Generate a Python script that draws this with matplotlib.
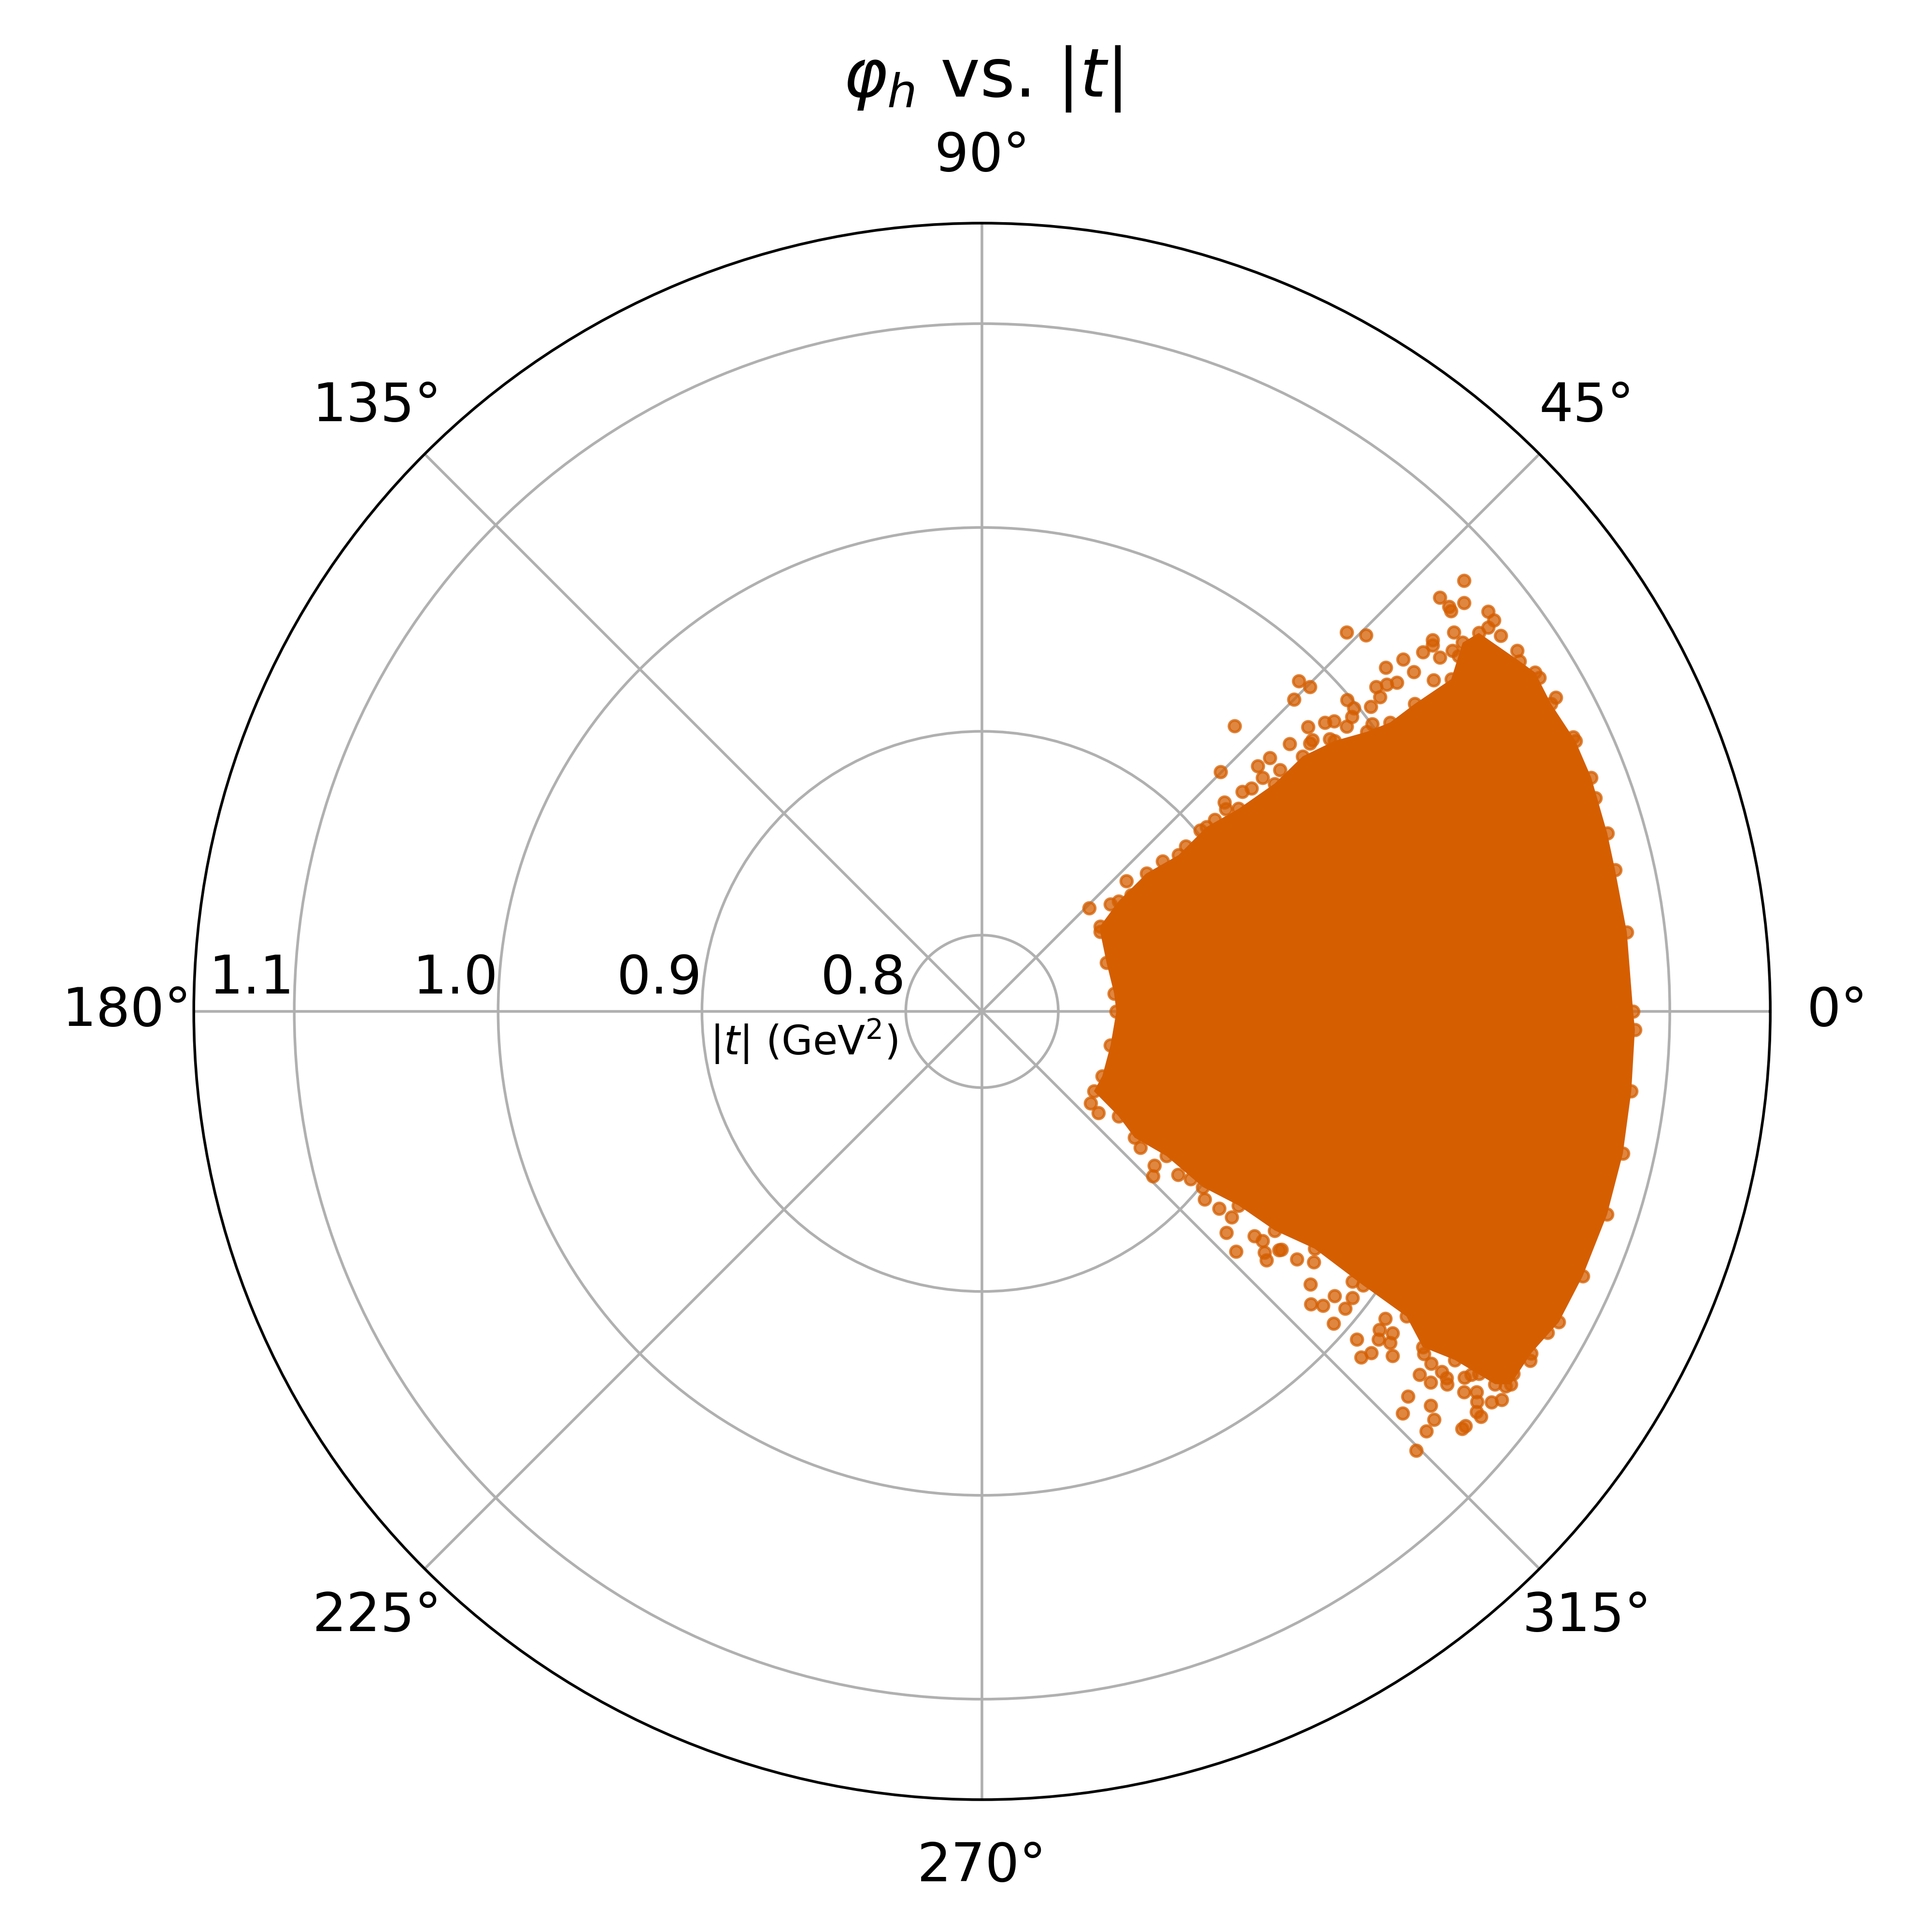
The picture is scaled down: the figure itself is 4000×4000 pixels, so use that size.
import numpy as np
import matplotlib.pyplot as plt
from matplotlib.transforms import ScaledTranslation

# dense core of the phi_h / |t| distribution (outline, deg / GeV^2)
core_phi_deg = [-35.5, -28.3, -14.7, 0.0, 7.7, 21.4, 34.0, 35.8,
                38.9, 40.0, 38.5, 39.4, 38.3, 37.9, 38.5, 37.5, 36.0, 35.3, 35.4, 35.3, 37.5, 37.3,
                33.1, 31.5, 28.4, 24.5, 21.0, 15.9, 12.6, 7.0, 0.0, -1.6, -7.0, -12.5, -18.0, -23.8,
                -28.3, -31.9, -35.2,
                -36.0, -36.4, -37.3, -35.7, -35.7, -35.5, -36.8, -37.1, -38.5, -38.1, -39.6, -37.5]
core_t = [0.830, 0.8296, 0.8278, 0.8285, 0.828, 0.8282, 0.8325, 0.834,
          0.8487, 0.868, 0.8858, 0.9052, 0.923, 0.9444, 0.9636, 0.9806, 0.996, 1.008, 1.023, 1.0446, 1.0598, 1.069,
          1.0773, 1.0808, 1.0799, 1.0825, 1.0827, 1.0815, 1.0808, 1.0813, 1.082, 1.083, 1.0835, 1.0846, 1.085, 1.0846,
          1.084, 1.0799, 1.080,
          1.0737, 1.0507, 1.0344, 1.019, 0.9927, 0.963, 0.942, 0.9204, 0.901, 0.8775, 0.8597, 0.847]

# sparse events outside the core
sparse_phi_deg = [41.8, 42.1, 40.3, 40.9, 40.5, 38.3, 37.4, 37.2, 38.8, 46.1, 44.4, 39.5, 39.1, 39.2,
                  39.9, 40.4, 37.7, 46.2, 44.7, 45.0, 48.5, 39.5, 38.4, 40.5, 39.2, 38.5, 39.5, 40.1,
                  41.1, 41.0, 39.3, 45.1, 41.7, 39.8, 41.4, 39.0, 40.2, 39.6, 40.8, 39.7, 39.5, 39.7,
                  39.0, 42.1, 38.2, 38.0, 43.9, 39.8, 39.7, 34.0, 35.9, 36.7,
                  38.0, 39.4, 38.1, 38.97, 38.2, 36.4, 38.1, 38.3, 37.5, 36.3, 30.9, 28.7, 24.9, 19.2,
                  -40.2, -41.1, -40.7, -41.8, -44.0, -40.2, -39.7, -42.2, -43.4, -41.2, -38.2, -39.7,
                  -41.7, -40.8, -41.6, -39.3, -41.2, -42.4, -41.3, -40.0, -39.7, -39.6, -42.1, -43.7,
                  -41.3, -42.1, -43.4, -45.3, -41.0, -40.6, -38.3, -37.6, -39.1, -39.0, -37.5, -36.8,
                  -38.3, -38.1, -38.1, -39.6, -37.7, -38.8, -39.3, -39.5, -38.8, -39.8, -36.6, -36.1,
                  -39.5, -40.5, -38.5, -39.1, -38.7, -38.9, -36.1, -37.1, -37.3, -38.7, -37.2, -38.25,
                  -38.1, -37.8, -34.3, -35.6, -32.5, -29.6]
sparse_t = [1.0797, 1.0654, 1.0726, 1.0657, 1.0652, 1.0790, 1.0787, 1.0742, 1.0595, 1.0207, 1.0263,
            1.0489, 1.0475, 1.0417, 1.0318, 1.0228, 1.0465, 0.9870, 0.9889, 0.9790, 0.9496, 1.0131,
            1.0223, 0.9981, 0.9979, 0.9946, 0.9863, 0.9825, 0.9749, 0.9626, 0.9704, 0.9285, 0.9436,
            0.9417, 0.9507, 0.9507, 0.9297, 0.9342, 0.9197, 0.9181, 0.9105, 0.9017, 0.8913, 0.8581,
            0.8673, 0.8555, 0.8356, 0.8446, 0.8778, 1.0792, 1.0768, 1.0543,
            0.9896, 0.9723, 0.9792, 1.0178, 1.032, 1.0003, 1.0048, 1.0114, 1.0534, 1.0373, 1.0813,
            1.0834, 1.0823, 1.0811,
            0.8323, 0.8384, 0.865, 0.876, 0.879, 0.9055, 0.9138, 0.9243, 0.934, 0.948, 0.959, 0.972,
            0.9785, 0.9834, 0.9932, 0.9927, 1.0069, 1.0143, 1.0166, 1.0256, 1.0415, 1.0481, 1.0443,
            1.0481, 1.0557, 1.0614, 1.0624, 1.0655, 1.0747, 1.075, 1.0638, 1.0688, 1.078, 1.0747,
            1.0776, 1.0808, 1.0529, 1.0491, 1.0185, 1.015, 0.9922, 0.9494, 0.9403, 0.9358, 0.8939,
            0.8877, 1.0614, 1.0642,
            0.9213, 0.9448, 0.9503, 1.0204, 1.0123, 0.9849, 0.9875, 0.9666, 1.0112, 1.0550, 1.0597,
            1.0718, 1.0427, 1.0368, 1.078, 1.0785, 1.0813, 1.0816]

r_ticks = [0.8, 0.9, 1.0, 1.1]
color = '#D55E00'

fig = plt.figure(figsize=(8, 8), dpi=500)
ax = fig.add_axes([0.1003, 0.0685, 0.816, 0.816], projection='polar')

ax.fill(np.radians(core_phi_deg), core_t, color=color, lw=0, zorder=2)
ax.scatter(np.radians(core_phi_deg), core_t, s=12, color=color, alpha=0.75, linewidths=0.8, zorder=3)
ax.scatter(np.radians(sparse_phi_deg), sparse_t, s=12, color=color, alpha=0.75, linewidths=0.8, zorder=3)

ax.set_rlim(0.7626, 1.1493)
ax.set_rticks(r_ticks)
ax.set_rlabel_position(180)
ax.tick_params(labelsize=16)
ax.tick_params(axis='x', pad=9.5)
ax.set_title(r'$\varphi_h$ vs. $|t|$', fontsize=20, pad=10)
ax.text(0.387, 0.481, r'$|t|$ (GeV$^2$)', transform=ax.transAxes,
        ha='center', va='center', fontsize=12)

fig.canvas.draw()
for lab in ax.get_yticklabels():
    lab.set_horizontalalignment('right')
    lab.set_transform(lab.get_transform() + ScaledTranslation(0, 2 / 72, fig.dpi_scale_trans))

fig.savefig('out.png', dpi=500)
